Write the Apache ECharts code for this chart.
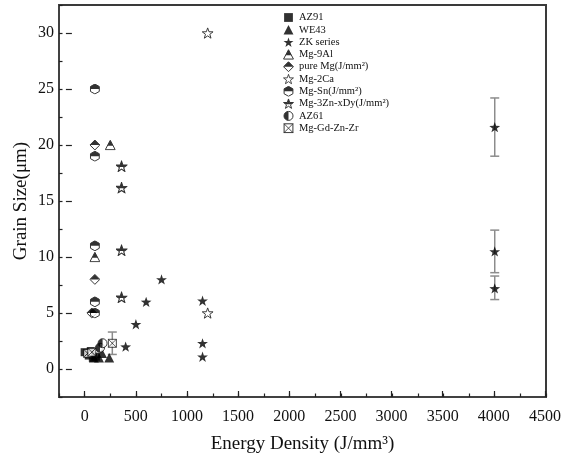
<!DOCTYPE html>
<html>
<head>
<meta charset="utf-8">
<script src="https://cdn.jsdelivr.net/npm/echarts@6/dist/echarts.min.js"></script>
<style>html,body{margin:0;padding:0;background:#fff}#c{width:564px;height:461px}</style>
</head>
<body>
<div id="c"></div>
<script>
// ---- data ----
const seriesNames = ['AZ91','WE43','ZK series','Mg-9Al','pure Mg(J/mm\u00B2)','Mg-2Ca','Mg-Sn(J/mm\u00B2)','Mg-3Zn-xDy(J/mm\u00B2)','AZ61','Mg-Gd-Zn-Zr'];
const az91   = [[0,1.5],[40,1.2],[80,1.0],[110,1.1],[60,1.6]];
const we43   = [[90,1.0],[170,1.4],[240,1.0],[140,1.0]];
const zk     = [[400,2.0],[500,4.0],[600,6.0],[750,8.0],[1150,6.1],[1150,2.3],[1150,1.1],[4000,21.6],[4000,10.5],[4000,7.2]];
const mg9al  = [[250,20],[100,10]];
const pureMg = [[100,20],[100,8],[70,5]];
const mg2ca  = [[1200,30],[1200,5]];
const mgSn   = [[100,25],[100,19],[100,11],[100,6],[100,5]];
const mg3zn  = [[360,18.1],[360,16.2],[360,10.6],[360,6.4]];
const az61   = [[150,1.9],[175,2.3]];
const mgGd   = [[30,1.4],[70,1.5],[270,2.3]];
// [x, y, low, high]
const errorBars = [[4000,21.6,19.0,24.2],[4000,10.5,8.6,12.4],[4000,7.2,6.2,8.3],[270,2.3,1.3,3.3]];
const xMin = -250, xMax = 4500, xMinorStep = 250, xMajorStep = 500;
const yMin = -2.5, yMax = 32.5, yMinorStep = 2.5, yMajorStep = 5;

// ---- symbols ----
function svg(inner){
  return 'image://data:image/svg+xml;charset=utf-8,' + encodeURIComponent(
    '<svg xmlns="http://www.w3.org/2000/svg" width="40" height="40" viewBox="0 0 20 20">' + inner + '</svg>');
}
const STAR = '10,1.5 12.23,7.93 19.04,8.06 13.61,12.17 15.58,18.69 10,14.8 4.42,18.69 6.39,12.17 0.96,8.06 7.77,7.93';
const TRI = '10,1.5 19,18.5 1,18.5';
const DIA = '10,1 19,10 10,19 1,10';
const HEX = '10,1 18,5.5 18,14.5 10,19 2,14.5 2,5.5';
function halfTop(points, cut){
  return '<defs><clipPath id="h"><rect x="0" y="0" width="20" height="' + cut + '"/></clipPath></defs>' +
    '<polygon points="' + points + '" fill="#fff" stroke="#000" stroke-width="1.8" stroke-linejoin="miter"/>' +
    '<polygon points="' + points + '" fill="#000" clip-path="url(#h)"/>';
}
const symbols = {
  'AZ91': svg('<rect x="2" y="2" width="16" height="16" fill="#000"/>'),
  'WE43': svg('<polygon points="' + TRI + '" fill="#000"/>'),
  'ZK series': svg('<polygon points="' + STAR + '" fill="#000"/>'),
  'Mg-9Al': svg(halfTop(TRI, 11.5)),
  'pure Mg(J/mm\u00B2)': svg(halfTop(DIA, 10)),
  'Mg-2Ca': svg('<polygon points="' + STAR + '" fill="#fff" stroke="#000" stroke-width="1.6"/>'),
  'Mg-Sn(J/mm\u00B2)': svg(halfTop(HEX, 10)),
  'Mg-3Zn-xDy(J/mm\u00B2)': svg(halfTop(STAR, 11)),
  'AZ61': svg('<circle cx="10" cy="10" r="8.2" fill="#fff" stroke="#000" stroke-width="1.8"/><path d="M10 1.8 A8.2 8.2 0 0 0 10 18.2 Z" fill="#000"/>'),
  'Mg-Gd-Zn-Zr': svg('<rect x="2" y="2" width="16" height="16" fill="#fff" stroke="#000" stroke-width="1.8"/><path d="M2 2 L18 18 M18 2 L2 18" stroke="#000" stroke-width="1.5"/>')
};
const seriesData = [az91, we43, zk, mg9al, pureMg, mg2ca, mgSn, mg3zn, az61, mgGd];
const sizes = [10, 11, 12, 11, 11, 12, 11, 12, 11, 10];

// ---- layout ----
const W = 564, H = 461;
const gL = 59, gR = 18, gT = 5, gB = 64;
const pw = W - gL - gR, ph = H - gT - gB;
const xOff = pw * (0 - xMin) / (xMax - xMin);
const yOff = ph * (yMax - 30) / (yMax - yMin);
const yOffB = ph * (0 - yMin) / (yMax - yMin);
const FONT = 'Liberation Serif';

const chart = echarts.init(document.getElementById('c'));
const series = seriesNames.map((n, i) => ({
  name: n, type: 'scatter', xAxisIndex: 0, yAxisIndex: 0,
  symbol: symbols[n], symbolSize: sizes[i], data: seriesData[i], z: 3 + i * 0.01,
  itemStyle: {color: '#000'}
}));
series.unshift({
  type: 'custom', xAxisIndex: 0, yAxisIndex: 0, z: 2, data: errorBars,
  encode: {x: 0, y: 1}, silent: true,
  renderItem: function(params, api){
    const x = api.value(0);
    const a = api.coord([x, api.value(2)]), b = api.coord([x, api.value(3)]);
    const w = 4.5, st = {stroke: '#8c8c8c', lineWidth: 1.5};
    return {type: 'group', children: [
      {type: 'line', shape: {x1: a[0], y1: a[1], x2: b[0], y2: b[1]}, style: st},
      {type: 'line', shape: {x1: a[0]-w, y1: a[1], x2: a[0]+w, y2: a[1]}, style: st},
      {type: 'line', shape: {x1: b[0]-w, y1: b[1], x2: b[0]+w, y2: b[1]}, style: st}
    ]};
  }
});

const lineStyle = {color: '#444', width: 1.5};
const tickStyle = {color: '#222', width: 1.2};
const plain = v => String(v);
chart.setOption({
  backgroundColor: '#fff',
  animation: false,
  textStyle: {fontFamily: FONT},
  legend: {
    orient: 'vertical', left: 278, top: 7, itemWidth: 11, itemHeight: 11, itemGap: 1.3,
    data: seriesNames, textStyle: {fontFamily: FONT, fontSize: 10.5, color: '#111'}
  },
  grid: [
    {left: gL, right: gR, top: gT, bottom: gB, show: true, borderColor: '#3a3a3a', borderWidth: 2},
    {left: gL + xOff, right: gR, top: gT, bottom: gB},
    {left: gL, right: gR, top: gT + yOff, bottom: gB + yOffB}
  ],
  xAxis: [
    {gridIndex: 0, type: 'value', min: xMin, max: xMax, interval: xMinorStep, position: 'bottom',
     axisLine: {show: true, onZero: false, lineStyle: lineStyle}, axisTick: {show: true, inside: true, length: 3.5, lineStyle: tickStyle},
     axisLabel: {show: false}, splitLine: {show: false},
     name: 'Energy Density (J/mm\u00B3)', nameLocation: 'middle', nameGap: 38,
     nameTextStyle: {fontFamily: FONT, fontSize: 19, color: '#111'}},
    {gridIndex: 1, type: 'value', min: 0, max: xMax, interval: xMajorStep, position: 'bottom',
     axisLine: {show: false, onZero: false}, axisTick: {show: true, inside: true, length: 6, lineStyle: tickStyle},
     axisLabel: {margin: 12, fontFamily: FONT, fontSize: 16, color: '#111', formatter: plain}, splitLine: {show: false}},
    {gridIndex: 2, type: 'value', min: xMin, max: xMax, show: false}
  ],
  yAxis: [
    {gridIndex: 0, type: 'value', min: yMin, max: yMax, interval: yMinorStep, position: 'left',
     axisLine: {show: true, onZero: false, lineStyle: lineStyle}, axisTick: {show: true, inside: true, length: 3.5, lineStyle: tickStyle},
     axisLabel: {show: false}, splitLine: {show: false},
     name: 'Grain Size(\u03BCm)', nameLocation: 'middle', nameGap: 28,
     nameTextStyle: {fontFamily: FONT, fontSize: 19, color: '#111'}},
    {gridIndex: 1, type: 'value', min: yMin, max: yMax, show: false},
    {gridIndex: 2, type: 'value', min: 0, max: 30, interval: yMajorStep, position: 'left',
     axisLine: {show: false, onZero: false}, axisTick: {show: true, inside: true, length: 6, lineStyle: tickStyle},
     axisLabel: {margin: 12, fontFamily: FONT, fontSize: 16, color: '#111', formatter: plain}, splitLine: {show: false},
     name: 'Grain Size(\u03BCm)', nameLocation: 'middle', nameGap: 25,
     nameTextStyle: {fontFamily: FONT, fontSize: 19, color: 'rgba(0,0,0,0)'}}
  ],
  series: series
});
</script>
</body>
</html>
